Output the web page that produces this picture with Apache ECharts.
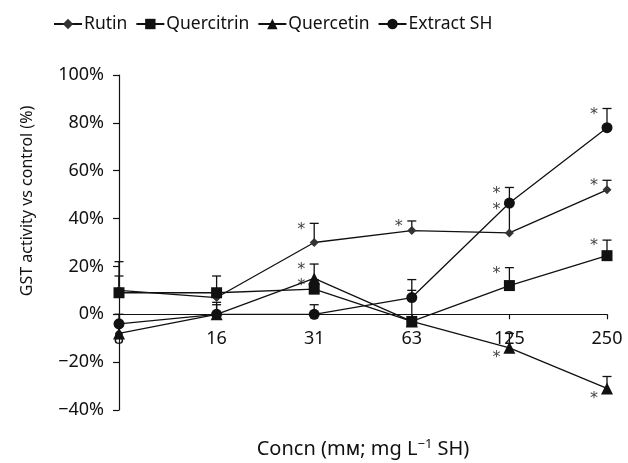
<!DOCTYPE html>
<html>
<head>
<meta charset="utf-8">
<script src="https://cdn.jsdelivr.net/npm/echarts@6/dist/echarts.min.js"></script>
<style>
  html, body { margin: 0; padding: 0; background: #fff; }
  #chart { width: 628px; height: 463px; }
</style>
</head>
<body>
<div id="chart"></div>
<script>
// concentrations on the x axis
const categories = ['8', '16', '31', '63', '125', '250']
const yTicks = [-40, 100, 20] // min, max, step (%)

// GST activity vs control (%), upper error and significance (1 above, -1 below)
const rutin = [10, 7, 30, 35, 34, 52]
const rutinErr = [12, 2, 8, 4, 12, 4]
const rutinSig = [0, 0, 1, 1, 1, 1]

const quercitrin = [9, 9, 10.5, -3, 12, 24.5]
const quercitrinErr = [7, 7, 4, 13, 7.5, 6.5]
const quercitrinSig = [0, 0, 1, 0, 1, 1]

const quercetin = [-8, 0, 15, -3, -14, -31]
const quercetinErr = [3, 5, 6, 0, 6, 5]
const quercetinSig = [0, 0, 1, 0, -1, -1]

const extract = [-4, 0, 0, 7, 46.5, 78]
const extractErr = [4, 4, 4, 7.5, 6.5, 8]
const extractSig = [0, 0, 0, 0, 1, 1]

const FONT = 'Noto Sans'
const INK = '#111'

// grid geometry, used to put the x axis on the 0% line
const GRID_TOP = 75
const GRID_BOTTOM = 53
const plotH = 463 - GRID_TOP - GRID_BOTTOM
const zeroShift = plotH * (0 - yTicks[0]) / (yTicks[1] - yTicks[0])

const chart = echarts.init(document.getElementById('chart'))

// line + marker series
const lineSeries = (name, data, symbol, size, color) => ({
  name,
  type: 'line',
  data,
  symbol,
  symbolSize: size,
  z: 3,
  itemStyle: {color, borderWidth: 0},
  lineStyle: {color: INK, width: 1.3}
})

// upper error bar with cap, plus the * for significance
const errSeries = (name, vals, errs, sig) => ({
  name: name + ' err',
  type: 'custom',
  z: 2,
  silent: true,
  data: vals.map((v, i) => [i, v, errs[i], sig[i]]),
  renderItem: (params, api) => {
    const i = api.value(0)
    const v = api.value(1)
    const e = api.value(2)
    const s = api.value(3)
    const p = api.coord([i, v])
    const top = api.coord([i, v + e])
    const children = []
    if (e > 0) {
      children.push({
        type: 'line',
        shape: {x1: p[0], y1: p[1], x2: top[0], y2: top[1]},
        style: {stroke: INK, lineWidth: 1.3}
      })
      children.push({
        type: 'line',
        shape: {x1: top[0] - 4.5, y1: top[1], x2: top[0] + 4.5, y2: top[1]},
        style: {stroke: INK, lineWidth: 1.3}
      })
    }
    if (s !== 0) {
      children.push({
        type: 'text',
        x: p[0] - 13,
        y: s > 0 ? top[1] + 6 : p[1] + 10,
        style: {
          text: '*', fill: '#444', font: '16px "DejaVu Sans"',
          textAlign: 'center', textVerticalAlign: 'middle'
        }
      })
    }
    return {type: 'group', children}
  }
})

chart.setOption({
  animation: false,
  backgroundColor: '#fff',
  textStyle: {fontFamily: FONT, color: INK},
  legend: {
    data: ['Rutin', 'Quercitrin', 'Quercetin', 'Extract SH'],
    left: 48,
    top: 10,
    itemWidth: 28,
    itemHeight: 13,
    itemGap: 8,
    textStyle: {fontFamily: FONT, fontSize: 17.5, color: INK, padding: [0, 0, 0, -3]}
  },
  grid: {left: 119, right: 21, top: GRID_TOP, bottom: GRID_BOTTOM, containLabel: false, outerBoundsMode: 'none'},
  xAxis: {
    type: 'category',
    data: categories,
    boundaryGap: false,
    offset: -zeroShift,
    axisLine: {onZero: false, lineStyle: {color: INK, width: 1.2}},
    axisTick: {alignWithLabel: true, length: 5, lineStyle: {color: INK, width: 1.2}},
    axisLabel: {fontFamily: FONT, fontSize: 18, color: INK, margin: 16, showMinLabel: true, hideOverlap: false},
    name: 'Concn (mᴍ; mg L{sup|−1} SH)',
    nameLocation: 'middle',
    nameGap: 124,
    nameTextStyle: {
      fontFamily: FONT, fontSize: 20, color: INK,
      rich: {sup: {fontFamily: FONT, fontSize: 13, color: INK, verticalAlign: 'top', padding: [0, 0, 9, 0]}}
    }
  },
  yAxis: {
    type: 'value',
    min: yTicks[0],
    max: yTicks[1],
    interval: yTicks[2],
    splitLine: {show: false},
    axisLine: {show: true, onZero: false, lineStyle: {color: INK, width: 1.2}},
    axisTick: {show: true, length: 6, lineStyle: {color: INK, width: 1.2}},
    axisLabel: {
      fontFamily: FONT, fontSize: 18, color: INK, margin: 15,
      formatter: v => (v < 0 ? '−' + Math.abs(v) : v) + '%'
    }
  },
  graphic: [{
    type: 'text',
    x: 27,
    y: 201,
    rotation: Math.PI / 2,
    style: {
      text: 'GST activity vs control (%)',
      font: '16px "Noto Sans"',
      fill: INK,
      textAlign: 'center',
      textVerticalAlign: 'middle'
    }
  }],
  series: [
    errSeries('Rutin', rutin, rutinErr, rutinSig),
    errSeries('Quercitrin', quercitrin, quercitrinErr, quercitrinSig),
    errSeries('Quercetin', quercetin, quercetinErr, quercetinSig),
    errSeries('Extract SH', extract, extractErr, extractSig),
    lineSeries('Rutin', rutin, 'diamond', 9, '#333'),
    lineSeries('Quercitrin', quercitrin, 'rect', 11, INK),
    lineSeries('Quercetin', quercetin, 'triangle', 12, INK),
    lineSeries('Extract SH', extract, 'circle', 11, INK)
  ]
})
</script>
</body>
</html>
